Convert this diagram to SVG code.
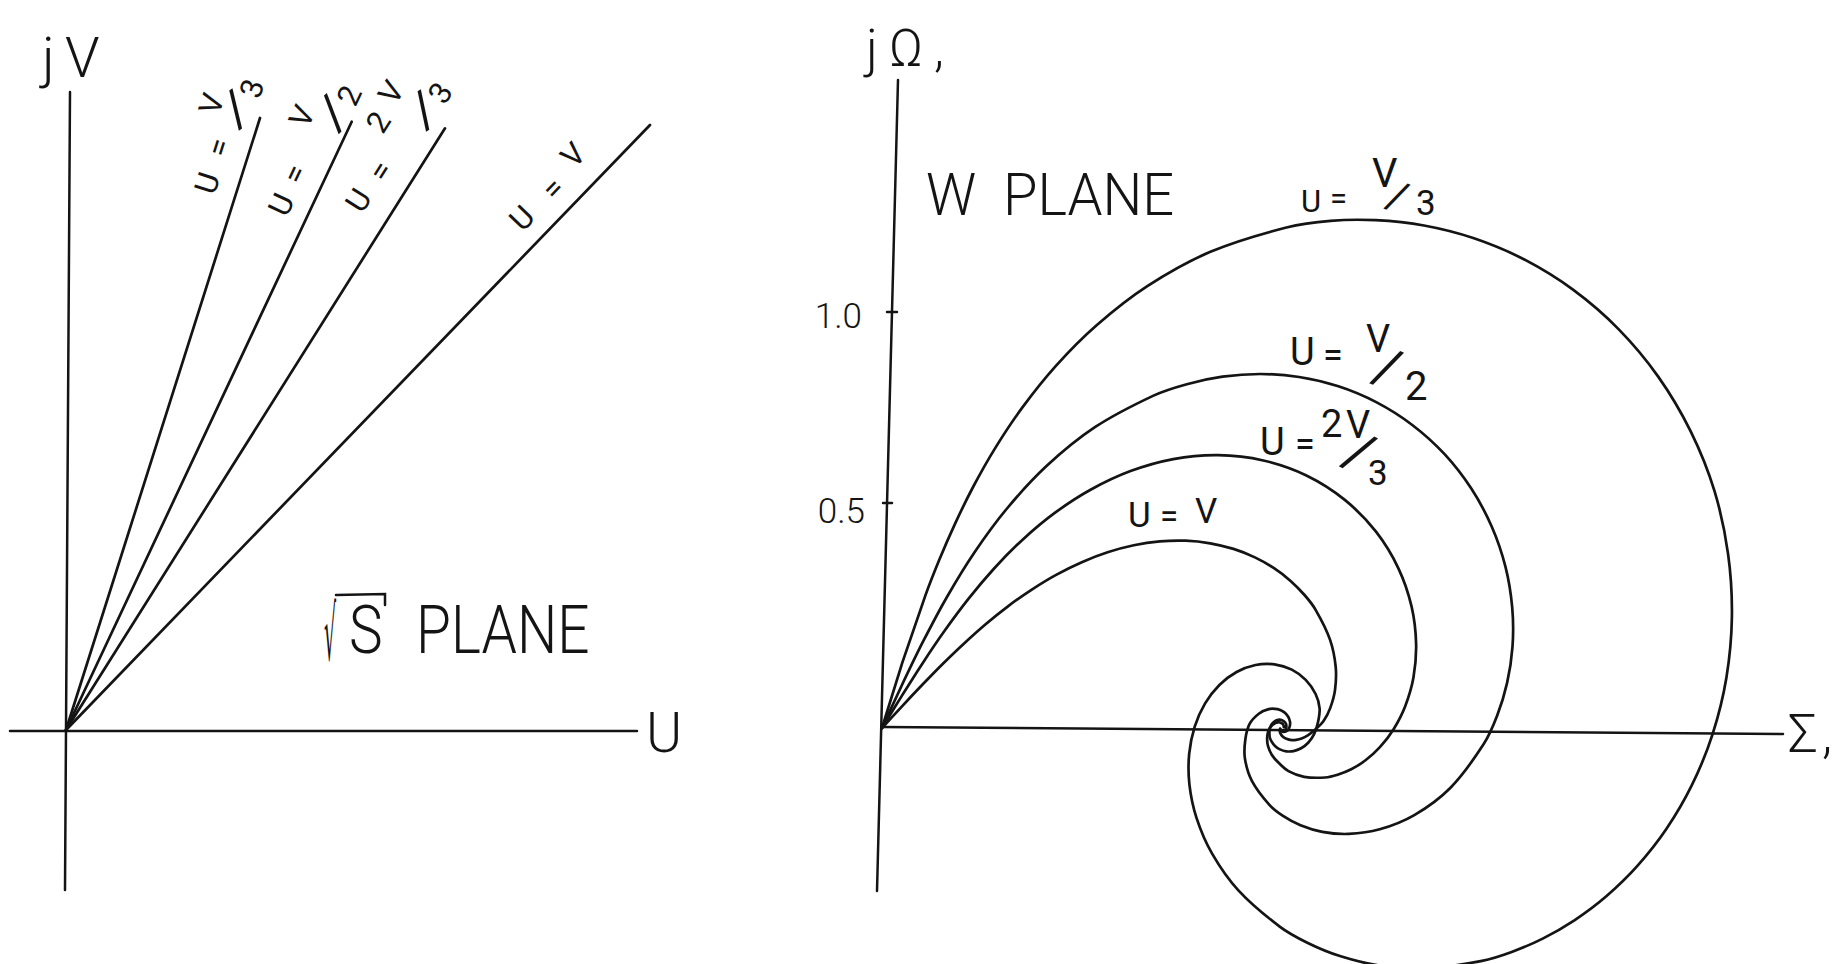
<svg xmlns="http://www.w3.org/2000/svg" width="1835" height="964" viewBox="0 0 1835 964">
<style>
.ink{fill:none;stroke:#141414;stroke-width:2.7;stroke-linecap:round;stroke-linejoin:round}
.ax{fill:none;stroke:#141414;stroke-width:2.5;stroke-linecap:round}
text{font-family:Roboto,"Liberation Sans",sans-serif;font-weight:300;fill:#141414}
.lbl{font-size:31px;font-weight:400}
.wl{font-weight:400}
</style>
<rect width="1835" height="964" fill="#fff"/>

<g id="sqrt-s-plane">
  <line class="ax" x1="70" y1="92" x2="65" y2="890"/>
  <line class="ax" x1="10" y1="731" x2="637" y2="731"/>
  <g id="rays">
    <line class="ink" x1="66" y1="730" x2="260" y2="118"/>
    <line class="ink" x1="66" y1="730" x2="351.7" y2="121.7"/>
    <line class="ink" x1="66" y1="730" x2="445" y2="128.3"/>
    <line class="ink" x1="66" y1="730" x2="650" y2="125"/>
  </g>
  <text x="42" y="77" font-size="56">j<tspan x="65">V</tspan></text>
  <text x="646" y="752" font-size="55">U</text>
  <text transform="translate(324,660) scale(0.25,1)" font-size="76" style="font-family:'DejaVu Sans',sans-serif;font-weight:400">√</text>
  <polyline class="ax" points="336,595 385,594 385,605"/>
  <text transform="translate(349,653) scale(0.86,1)" font-size="66">S <tspan x="78">PLANE</tspan></text>
  <g transform="translate(66,730) rotate(-72.4)">
    <text class="lbl"><tspan x="554" y="-20">U</tspan><tspan x="593" y="-20">=</tspan><tspan x="631" y="-40">V</tspan><tspan x="625" y="-19" font-size="50" rotate="38">/</tspan><tspan x="659" y="-6">3</tspan></text>
  </g>
  <g transform="translate(66,730) rotate(-64.8)">
    <text class="lbl"><tspan x="557" y="-18">U</tspan><tspan x="592" y="-19">=</tspan><tspan x="646" y="-37">V</tspan><tspan x="656" y="-10" font-size="50" rotate="23">/</tspan><tspan x="686" y="-3">2</tspan></text>
  </g>
  <g transform="translate(66,730) rotate(-57.8)">
    <text class="lbl"><tspan x="594" y="-24">U</tspan><tspan x="632" y="-21">=</tspan><tspan x="672" y="-49">2</tspan><tspan x="703" y="-54">V</tspan><tspan x="699" y="-17" font-size="50" rotate="25">/</tspan><tspan x="730" y="-12">3</tspan></text>
  </g>
  <g transform="translate(66,730) rotate(-46)">
    <text class="lbl"><tspan x="675" y="-17">U</tspan><tspan x="719" y="-15">=</tspan><tspan x="756" y="-24">V</tspan></text>
  </g>
</g>

<g id="w-plane">
  <line class="ax" x1="898" y1="80" x2="877" y2="891"/>
  <line class="ax" x1="882" y1="727" x2="1783" y2="734"/>
  <line class="ax" x1="887" y1="312" x2="897" y2="312"/>
  <line class="ax" x1="883" y1="503" x2="892" y2="503"/>
  <text x="862" y="328" font-size="35" text-anchor="end">1.0</text>
  <text x="865" y="523" font-size="35" text-anchor="end">0.5</text>
  <text x="866" y="66" font-size="52">j<tspan x="889">Ω</tspan><tspan x="934">,</tspan></text>
  <text x="1788" y="752" font-size="53">Σ<tspan x="1822">,</tspan></text>
  <text transform="translate(926,215) scale(0.95,1)" font-size="59">W <tspan x="81">PLANE</tspan></text>

  <g id="curves">
    <path id="u-v3" class="ink" d="M882,728 L902.4,662.4 L925.6,594.9 C929.7,583.5 934.4,571.7 939.3,559.8 S949.4,535.9 955.1,523.6 S966.8,498.8 973.6,486 S987.6,460.3 995.8,447.1 S1012.8,420.4 1022.8,406.9 S1043.6,379.6 1055.9,365.9 S1081.6,338.3 1096.9,325 S1128.8,298.1 1147.7,285.9 S1187.3,261.5 1210.4,251.8 S1259.7,234.4 1286.4,227.5 C1299.7,224.1 1315.65,222 1330.5,220.8 S1359.9,219.4 1375.5,220.2 S1407.6,222.5 1424,225.5 S1457.3,232.6 1474,238.3 S1507.8,250.9 1524.3,259.5 S1557.3,278.1 1573,289.7 S1604.1,314.4 1618.3,328.9 S1646.1,359.5 1658.2,376.6 S1681.3,412.3 1690.7,431.4 S1708.4,471 1714.6,491.4 S1725.2,533.2 1728.1,554.1 S1732.2,596.4 1731.9,617 S1729.6,658.2 1726.4,677.7 S1718.3,716.3 1712.6,734.1 S1699.8,768.9 1692.1,784.7 S1675.6,815.3 1666.5,828.8 S1647.4,854.7 1637.4,865.9 S1616.8,887.2 1606.3,896.3 S1585,913.3 1574.4,920.3 S1553.2,933.3 1542.7,938.6 S1521.8,948.2 1511.7,951.9 S1491.3,959 1482,960.8 C1463.3,964.4 1444.6,967.5 1427.7,968.3 S1395.1,967.7 1380.6,965.7 S1352.9,960.1 1340.7,956.3 S1317.5,947.7 1307.3,942.7 S1287.3,932.4 1279.7,926.6 C1264.4,915 1249.9,902.8 1238.6,890.6 S1219.1,865.7 1212.1,853.6 S1200.3,829.4 1196.5,817.8 S1190.6,795 1189.4,784.3 S1188.3,763.3 1189.2,753.7 S1192.1,735 1194.7,726.6 S1201,710.3 1205.1,703.4 S1214.2,690.2 1219.4,685 S1230.6,675.3 1236.6,672 S1249.2,666.3 1255.5,665 S1268.5,663.5 1274.5,664.3 S1286.6,667 1291.8,669.6 S1301.7,675.8 1305.7,679.9 S1313.3,689.3 1315.6,694 S1319.2,703.6 1319.6,708.4 S1318.7,718.8 1317.8,723.1 S1315.7,730.9 1314.1,734.2 S1310.4,740.4 1308.2,742.7 S1303.6,746.9 1301.1,748.3 S1296,750.6 1293.5,751.1 S1288.5,751.6 1286.2,751.3 S1281.8,750.3 1279.9,749.4 S1276.4,747.2 1275,745.9 S1272.4,743 1271.5,741.4 S1269.8,738.1 1269.6,736.6 C1269.3,733.5 1269.3,730.1 1270,727.6 S1272.6,723 1274.1,721.7 S1277.7,719.8 1279.3,719.7 S1282.6,720.4 1283.7,721.1 S1285.8,723.2 1286.1,724.2 C1286.5,725.7 1286.4,727.7 1285.9,728.8 S1284.2,730.2 1283.4,730.9"/>
    <path id="u-v2" class="ink" d="M882,728 C888.7,713.5 895.3,699.1 902.2,684.5 S916,655.3 923.5,640.7 S938.6,611.4 947.1,596.7 S964.4,567.2 974.4,552.5 S995,522.9 1007,508.5 S1031.9,479.7 1046.5,466.1 S1077.1,439 1094.9,427.2 S1133.1,405.2 1153.5,395.6 C1163.7,390.8 1175.3,387.4 1186.8,384.2 S1210.3,378.4 1222.5,376.7 S1247.4,374 1260.2,374 S1286.1,375 1299.1,377 S1325.5,382.1 1338.4,386.3 S1364.3,395.9 1376.7,402.4 S1401.3,416.6 1412.6,425.2 S1434.8,443.6 1444.6,454.2 S1463.4,476.5 1471.3,488.6 S1486.1,513.7 1491.8,526.7 S1502.1,553.5 1505.5,566.9 S1511,594.1 1512.2,607.4 S1513.4,634 1512.5,646.6 S1509.7,671.4 1507.1,682.9 S1501.1,705.4 1497.2,715.6 S1488.9,736.1 1483.7,744.1 C1473.3,760.1 1462.1,775.9 1450.5,787.7 S1426.1,808.2 1414.3,815.1 S1390.6,826.2 1379.7,829.3 S1358.3,833.5 1348.7,833.9 S1330.3,833.3 1322.3,831.8 S1307.1,827.9 1300.5,825.2 S1288.2,819.2 1283,815.8 S1272.8,808.7 1269.4,804.8 C1262.5,797.1 1256.1,788.8 1252,781.1 S1246,765.4 1244.9,758.4 S1244.6,744.8 1245.4,739 S1247.4,728.1 1249.6,723.9 S1255.6,716.2 1258.8,713.7 S1265.6,709.9 1268.7,709.1 S1274.9,708.7 1277.5,709.2 S1282.3,710.9 1284.1,712.2 S1287.2,715.2 1288.2,716.8 S1289.7,720.3 1290,721.8 S1290.1,724.8 1289.8,726 S1289.1,728.3 1288.5,729.2 S1287.2,730.8 1286.5,731.2 C1285.5,731.8 1284.4,732 1283.5,732 S1281.9,731.6 1281.4,731.2 C1280.8,730.7 1280.7,729.9 1280.3,729.2"/>
    <path id="u-2v3" class="ink" d="M882,728 C888.7,717.1 895.3,706.3 902.1,695.4 S915.7,673.7 922.8,662.9 S937,641.4 944.6,630.8 S960,609.6 968.2,599.2 S985,578.5 994.1,568.5 S1012.7,548.7 1022.9,539.4 S1043.8,521 1055.1,512.7 S1078.4,496.4 1091,489.5 S1116.8,476.2 1130.5,471.1 S1158.7,461.8 1173.3,459.1 S1203.1,455 1218.1,455.2 S1248.6,457.1 1263.3,460.5 S1292.8,468.9 1306.4,475.5 S1333.2,490.5 1344.8,499.9 S1367.1,520.3 1376,531.7 S1392.5,555.8 1398.4,568.3 S1408.7,594.1 1411.6,606.6 S1415.8,631.8 1416.1,643.6 S1415.3,666.8 1413.5,677.2 S1408.6,697.2 1405.3,705.9 S1397.8,722.3 1393.6,729.2 S1384.6,742 1379.9,747.2 S1370.3,756.6 1365.5,760.3 S1355.9,766.9 1351.2,769.3 S1342,773.4 1337.6,774.8 S1328.8,777.3 1325.1,777.5 C1317.7,777.9 1310.2,777.9 1304.1,776.8 S1292.7,773.4 1288.5,771.1 S1281.9,766 1279.1,763.3 S1273.7,757.7 1271.9,754.9 S1268.9,749.1 1268.1,746.4 S1267.1,741 1267.1,738.7 S1267.4,734.3 1267.9,732.5 S1269.2,729.1 1270,727.8 S1271.8,725.5 1272.7,724.7 S1274.5,723.3 1275.4,722.9 S1277.2,722.4 1278,722.3 S1279.5,722.3 1280.1,722.5 C1281,722.8 1281.8,723.3 1282.4,723.7 S1283.3,724.7 1283.5,725.2 C1283.8,725.9 1283.7,726.5 1283.8,727.1"/>
    <path id="u-v" class="ink" d="M882,728 C888.7,720.8 895.3,713.5 902,706.3 S915.5,691.9 922.3,684.8 S935.9,670.6 942.9,663.7 S956.9,650 964.1,643.4 S978.5,630.3 985.9,624 S1000.9,611.6 1008.6,605.8 S1024.2,594.5 1032.2,589.3 S1048.3,579.1 1056.6,574.6 S1073.3,565.9 1081.8,562.2 S1098.9,555.1 1107.6,552.3 S1125.1,547.1 1133.8,545.3 S1151.3,542.2 1159.9,541.4 S1177.1,540.4 1185.5,540.7 S1202.2,541.9 1210.2,543.3 S1226.1,546.6 1233.5,548.9 S1248.2,554.2 1254.9,557.4 S1268.1,564.3 1274,568.2 S1285.5,576.4 1290.6,580.9 S1300.3,590.2 1304.5,595 S1312.8,604.8 1315.6,609.8 C1321.3,619.7 1326.7,630.1 1330,639.6 S1334.9,658.6 1335.7,667 S1335.9,683.3 1335,690.1 S1332.1,702.9 1330.2,708.1 S1326,717.5 1323.4,721.2 S1317.2,727.7 1314.6,730.1 S1310,734 1307.8,735.4 S1303.5,737.8 1301.6,738.5 S1297.9,739.6 1296.2,739.9 S1292.9,740.3 1291.6,740.1 C1289.6,739.9 1287.9,739.4 1286.4,738.8 S1283.7,737.4 1282.9,736.7 C1281.8,735.7 1281,734.5 1280.5,733.6 C1279.9,732.5 1279.8,731.3 1279.7,730.5 S1280,729.2 1280.1,728.6"/>
  </g>

  <text class="wl" font-size="31"><tspan x="1301" y="212">U</tspan><tspan x="1330" y="209">=</tspan><tspan x="1372" y="187" font-size="40">V</tspan><tspan x="1384" y="206" font-size="42" rotate="23">/</tspan><tspan x="1416" y="215" font-size="35">3</tspan></text>
  <text class="wl" font-size="38"><tspan x="1290" y="365">U</tspan><tspan x="1323" y="367" font-size="36">=</tspan><tspan x="1366" y="352">V</tspan><tspan x="1370" y="380" font-size="54" rotate="23">/</tspan><tspan x="1405" y="400" font-size="40">2</tspan></text>
  <text class="wl" font-size="38"><tspan x="1260" y="455">U</tspan><tspan x="1295" y="456" font-size="36">=</tspan><tspan x="1321" y="437">2</tspan><tspan x="1346" y="438">V</tspan><tspan x="1340" y="463" font-size="56" rotate="29">/</tspan><tspan x="1368" y="485" font-size="35">3</tspan></text>
  <text class="wl" font-size="35"><tspan x="1128" y="527">U</tspan><tspan x="1160" y="528" font-size="33">=</tspan><tspan x="1195" y="523">V</tspan></text>
</g>
</svg>
